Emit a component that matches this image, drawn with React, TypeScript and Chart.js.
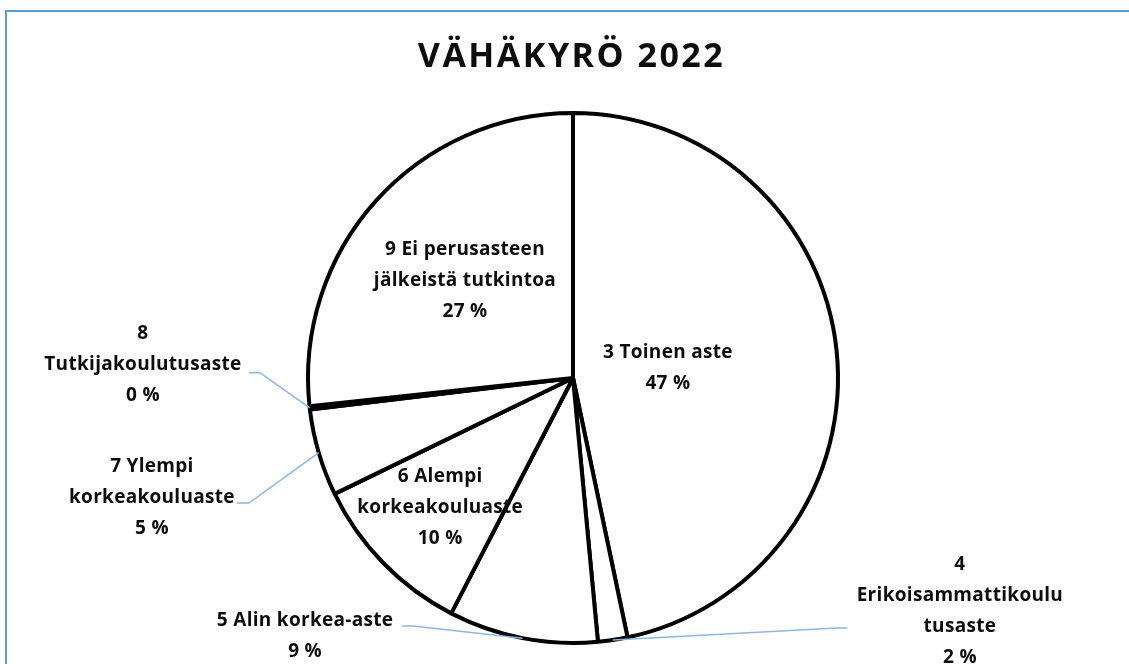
import React, { useEffect, useRef } from "react";
import { Chart, registerables } from "chart.js";

Chart.register(...registerables);

const TITLE = "VÄHÄKYRÖ 2022";
const categories = [
  "3 Toinen aste",
  "4 Erikoisammattikoulutusaste",
  "5 Alin korkea-aste",
  "6 Alempi korkeakouluaste",
  "7 Ylempi korkeakouluaste",
  "8 Tutkijakoulutusaste",
  "9 Ei perusasteen jälkeistä tutkintoa",
];
const shares = [46.7, 1.8, 9.1, 10.2, 5.3, 0.2, 26.7];
const labelLines = [
  ["3 Toinen aste"],
  ["4", "Erikoisammattikoulu", "tusaste"],
  ["5 Alin korkea-aste"],
  ["6 Alempi", "korkeakouluaste"],
  ["7 Ylempi", "korkeakouluaste"],
  ["8", "Tutkijakoulutusaste"],
  ["9 Ei perusasteen", "jälkeistä tutkintoa"],
];

type Layout =
  | { kind: "in"; r: number }
  | { kind: "out"; fx: number; fy: number; lx: number; ly: number; side: "left" | "right"; h: number };
const layouts: Layout[] = [
  { kind: "in", r: 0.36 },
  { kind: "out", fx: 1.46, fy: 0.879, lx: 1.035, ly: 0.943, side: "left", h: 10 },
  { kind: "out", fx: -1.011, fy: 0.975, lx: -0.645, ly: 0.936, side: "right", h: 11 },
  { kind: "in", r: 0.7 },
  { kind: "out", fx: -1.589, fy: 0.453, lx: -1.268, ly: 0.472, side: "right", h: 12 },
  { kind: "out", fx: -1.623, fy: -0.049, lx: -1.223, ly: -0.02, side: "right", h: 11 },
  { kind: "in", r: 0.548 },
];

const FONT = "bold 19px 'Open Sans', Lato, sans-serif";
const LINE_H = 31;

const labelPlugin = {
  id: "pieLabels",
  afterDraw(chart: any) {
    const ctx = chart.ctx;
    const meta = chart.getDatasetMeta(0);
    const data = chart.data.datasets[0].data as number[];
    const total = data.reduce((a, b) => a + b, 0);
    ctx.save();
    ctx.fillStyle = "#0d0d0d";
    ctx.font = "bold 34px 'Open Sans', Lato, sans-serif";
    ctx.textAlign = "center";
    ctx.textBaseline = "middle";
    (ctx as any).letterSpacing = "2.5px";
    ctx.fillText(TITLE, chart.width / 2 + 7, 57);

    meta.data.forEach((arc: any, i: number) => {
      const { x, y, startAngle, endAngle, outerRadius } = arc.getProps(
        ["x", "y", "startAngle", "endAngle", "outerRadius"],
        true
      );
      const mid = (startAngle + endAngle) / 2;
      const lines = [...labelLines[i], Math.round((data[i] / total) * 100) + " %"];
      const lay = layouts[i];
      let tx: number, ty: number;
      if (lay.kind === "in") {
        tx = x + Math.cos(mid) * outerRadius * lay.r;
        ty = y + Math.sin(mid) * outerRadius * lay.r;
      } else {
        tx = x + lay.fx * outerRadius;
        ty = y + lay.fy * outerRadius;
        const ex = x + Math.cos(mid) * outerRadius;
        const ey = y + Math.sin(mid) * outerRadius;
        const sx = x + lay.lx * outerRadius;
        const sy = y + lay.ly * outerRadius;
        const hx = lay.side === "right" ? sx + lay.h : sx - lay.h;
        ctx.strokeStyle = "#8db6e2";
        ctx.lineWidth = 1.5;
        ctx.beginPath();
        ctx.moveTo(sx, sy);
        ctx.lineTo(hx, sy);
        ctx.lineTo(ex, ey);
        ctx.stroke();
      }
      ctx.font = FONT;
      (ctx as any).letterSpacing = "0.3px";
      ctx.fillStyle = "#0d0d0d";
      ctx.textAlign = "center";
      ctx.textBaseline = "middle";
      const top = ty - ((lines.length - 1) * LINE_H) / 2;
      lines.forEach((ln, k) => ctx.fillText(ln, tx, top + k * LINE_H));
    });
    (ctx as any).letterSpacing = "0px";
    ctx.restore();
  },
};

export default function App() {
  const ref = useRef<HTMLCanvasElement | null>(null);
  useEffect(() => {
    if (!ref.current) return;
    const chart = new Chart(ref.current, {
      type: "pie",
      data: {
        labels: categories,
        datasets: [
          {
            data: shares,
            backgroundColor: "#ffffff",
            borderColor: "#000000",
            borderWidth: 4,
          },
        ],
      },
      options: {
        responsive: false,
        animation: false,
        radius: 265,
        layout: { padding: { left: 308, right: 291, top: 113, bottom: 21 } },
        plugins: {
          legend: { display: false },
          tooltip: { enabled: false },
          title: { display: false },
        },
      } as any,
      plugins: [labelPlugin],
    });
    return () => chart.destroy();
  }, []);
  return (
    <div style={{ position: "fixed", left: 0, top: 0, width: 1129, height: 664, background: "#fff", overflow: "hidden" }}>
      <div
        style={{
          position: "absolute",
          left: 5,
          top: 10,
          width: 1200,
          height: 800,
          borderLeft: "2px solid #5b9bd5",
          borderTop: "2px solid #5b9bd5",
        }}
      />
      <canvas ref={ref} width={1129} height={664} style={{ position: "absolute", left: 0, top: 0, width: 1129, height: 664 }} />
    </div>
  );
}
